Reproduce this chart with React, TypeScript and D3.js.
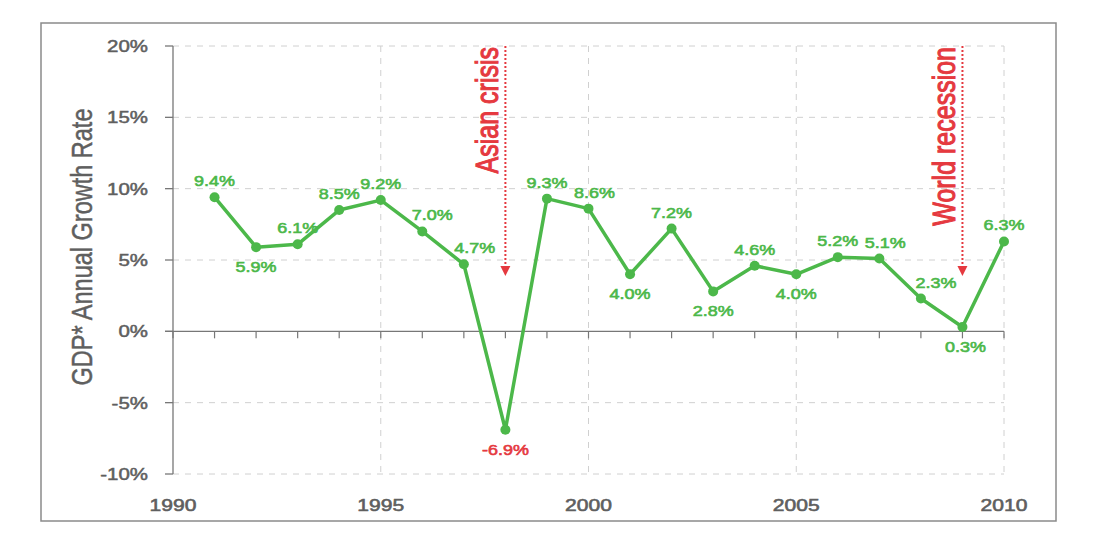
import React from "react";
import * as d3 from "d3";

const years = [1991, 1992, 1993, 1994, 1995, 1996, 1997, 1998, 1999, 2000, 2001, 2002, 2003, 2004, 2005, 2006, 2007, 2008, 2009, 2010];
const growth = [9.4, 5.9, 6.1, 8.5, 9.2, 7.0, 4.7, -6.9, 9.3, 8.6, 4.0, 7.2, 2.8, 4.6, 4.0, 5.2, 5.1, 2.3, 0.3, 6.3];
const labelSide = ["above", "below", "above", "above", "above", "above", "above", "below", "above", "above", "below", "above", "below", "above", "below", "above", "above", "above", "below", "above"];
const labelNudge = [0, 0, 0, 0, 0, 10, 11, 0, 0, 6, 0, 0, 0, 0, 0, 0, 6, 15, 3, 0];
const xTicks = [1990, 1995, 2000, 2005, 2010];
const yTicks = [-10, -5, 0, 5, 10, 15, 20];
const events = [
  { year: 1998, label: "Asian crisis" },
  { year: 2009, label: "World recession" },
];
const yTitle = "GDP* Annual Growth Rate";

const W = 1104;
const H = 535;
const SX = 1.24;
const GREEN = "#4cb84a";
const RED = "#e5393f";
const GRAY = "#5f5f5f";
const FONT = "'Liberation Sans', Arial, Helvetica, sans-serif";

export default function App() {
  const x = d3.scaleLinear().domain([1990, 2010]).range([173, 1004]);
  const y = d3.scaleLinear().domain([-10, 20]).range([474, 46]);
  const line = d3
    .line<number>()
    .x((_, i) => x(years[i]))
    .y((d) => y(d));
  const allYears = d3.range(1990, 2011);

  const htext = (
    key: string,
    tx: number,
    ty: number,
    s: string,
    size: number,
    fill: string,
    anchor: string,
    sw: number = 0.5
  ) => (
    <text
      key={key}
      transform={`translate(${tx},${ty}) scale(${SX},1)`}
      textAnchor={anchor as any}
      fontSize={size}
      fontFamily={FONT}
      fill={fill}
      stroke={fill}
      strokeWidth={sw}
    >
      {s}
    </text>
  );

  return (
    <svg width={W} height={H} style={{ position: "absolute", left: 0, top: 0, background: "#fff" }}>
      <rect x={41} y={23} width={1015} height={498} fill="#fff" stroke="#8a8a8a" strokeWidth={1.5} />

      {/* grid */}
      {yTicks
        .filter((t) => t !== 0)
        .map((t) => (
          <line key={"gy" + t} x1={x(1990)} x2={x(2010)} y1={y(t)} y2={y(t)} stroke="#d0d0d0" strokeWidth={1} strokeDasharray="6,6" />
        ))}
      {xTicks
        .filter((t) => t !== 1990)
        .map((t) => (
          <line key={"gx" + t} x1={x(t)} x2={x(t)} y1={y(20)} y2={y(-10)} stroke="#d0d0d0" strokeWidth={1} strokeDasharray="6,6" />
        ))}

      {/* y axis */}
      <line x1={x(1990)} x2={x(1990)} y1={y(20)} y2={y(-10)} stroke="#777" strokeWidth={1.3} />
      {yTicks.map((t) => (
        <g key={"yt" + t}>
          <line x1={x(1990) - 8} x2={x(1990)} y1={y(t)} y2={y(t)} stroke="#777" strokeWidth={1.3} />
          {htext("ytl" + t, 148, y(t) + 6, `${t}%`, 16.5, GRAY, "end")}
        </g>
      ))}

      {/* zero axis */}
      <line x1={x(1990) - 8} x2={x(2010)} y1={y(0)} y2={y(0)} stroke="#777" strokeWidth={1.3} />
      {allYears.map((yr) => (
        <line key={"xt" + yr} x1={x(yr)} x2={x(yr)} y1={y(0)} y2={y(0) + 7} stroke="#777" strokeWidth={1.2} />
      ))}
      {xTicks.map((t) => htext("xtl" + t, x(t), 511, String(t), 17, GRAY, "middle", 0.6))}

      {/* y title */}
      <text
        transform={`translate(92,247) scale(${SX},1) rotate(-90)`}
        textAnchor="middle"
        fontSize={23.5}
        fontFamily={FONT}
        fill={GRAY}
        stroke={GRAY}
        strokeWidth={0.4}
      >
        {yTitle}
      </text>

      {/* events */}
      {events.map((e) => (
        <g key={e.label}>
          <line x1={x(e.year)} x2={x(e.year)} y1={y(20)} y2={266} stroke={RED} strokeWidth={2} strokeDasharray="2,2" />
          <path d={`M${x(e.year) - 5},266 L${x(e.year) + 5},266 L${x(e.year)},276 Z`} fill={RED} />
          <text
            transform={`translate(${x(e.year) - 7},47) scale(${SX},1) rotate(-90)`}
            textAnchor="end"
            fontSize={25}
            fontFamily={FONT}
            fill={RED}
            stroke={RED}
            strokeWidth={0.9}
          >
            {e.label}
          </text>
        </g>
      ))}

      {/* series */}
      <path d={line(growth) || ""} fill="none" stroke={GREEN} strokeWidth={3.5} strokeLinejoin="round" />
      {growth.map((v, i) => (
        <circle key={"c" + i} cx={x(years[i])} cy={y(v)} r={5} fill={GREEN} />
      ))}
      {growth.map((v, i) => {
        const px = x(years[i]) + labelNudge[i];
        const py = labelSide[i] === "above" ? y(v) - 11 : y(v) + 25;
        return htext("dl" + i, px, py, `${v.toFixed(1)}%`, 14.5, v < 0 ? RED : GREEN, "middle", 0.6);
      })}
    </svg>
  );
}
